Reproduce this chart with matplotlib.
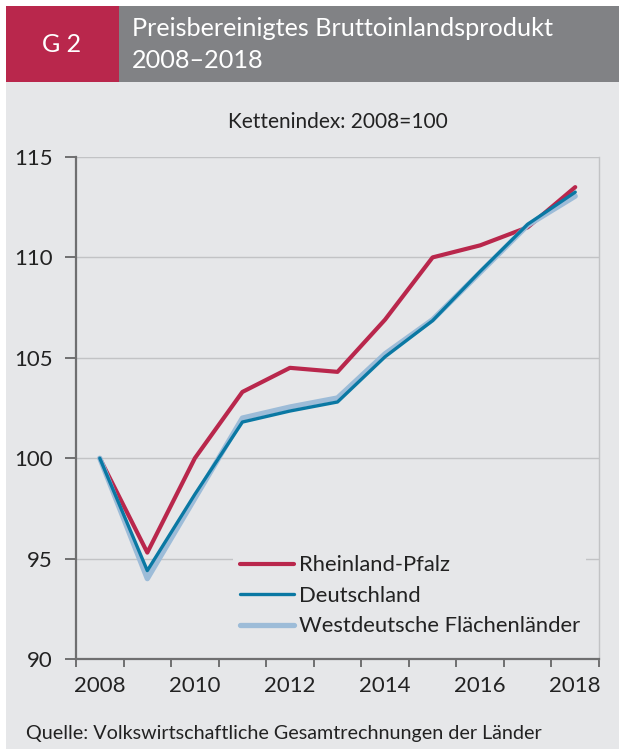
import numpy as np
import matplotlib
matplotlib.use("Agg")
import matplotlib.pyplot as plt
from matplotlib.patches import Rectangle

# Daten (Kettenindex 2008 = 100)
jahre = [2008, 2009, 2010, 2011, 2012, 2013, 2014, 2015, 2016, 2017, 2018]
rlp = [100.0, 95.3, 100.0, 103.3, 104.5, 104.3, 106.9, 110.0, 110.6, 111.5, 113.5]
deutschland = [100.0, 94.4, 98.2, 101.8, 102.35, 102.8, 105.05, 106.85, 109.3, 111.65, 113.25]
west = [100.0, 94.0, 98.0, 102.0, 102.55, 103.0, 105.2, 106.9, 109.25, 111.6, 113.05]
y_ticks = [90, 95, 100, 105, 110, 115]

ROT = "#b9274c"
BLAU = "#0a78a3"
HELLBLAU = "#9dbcd8"
GRAU_KOPF = "#818285"
HG = "#e6e7e9"
TEXT = "#222222"

plt.rcParams["font.family"] = ["Lato", "DejaVu Sans"]

W, H = 619, 749
fig = plt.figure(figsize=(W / 100, H / 100), dpi=100)
fig.patch.set_facecolor("white")


def px(x0, y0, x1, y1):
    # Pixelrechteck (von oben gemessen) -> Figure-Koordinaten
    return (x0 / W, 1 - y1 / H, (x1 - x0) / W, (y1 - y0) / H)


# Hintergrund und Kopfzeile
for (x0, y0, x1, y1), c in [((6, 82, 619, 749), HG),
                            ((6, 6, 119, 82), ROT),
                            ((119, 6, 619, 82), GRAU_KOPF)]:
    l, b, w, h = px(x0, y0, x1, y1)
    fig.patches.append(Rectangle((l, b), w, h, transform=fig.transFigure,
                                 facecolor=c, edgecolor="none", zorder=-10))

fig.text(62 / W, 1 - 44 / H, "G 2", color="white", fontsize=18,
         ha="center", va="center")
fig.text(132 / W, 1 - 28 / H, "Preisbereinigtes Bruttoinlandsprodukt",
         color="white", fontsize=18.2, ha="left", va="center")
fig.text(132 / W, 1 - 60 / H, "2008–2018", color="white", fontsize=18.2,
         ha="left", va="center")

ax = fig.add_axes(px(76, 157, 599, 659))
ax.set_facecolor(HG)

x = np.arange(len(jahre))
l_rlp, = ax.plot(x, rlp, color=ROT, lw=3.0, solid_capstyle="round", zorder=3)
l_west, = ax.plot(x, west, color=HELLBLAU, lw=3.8, solid_capstyle="round", zorder=4)
l_de, = ax.plot(x, deutschland, color=BLAU, lw=2.4, solid_capstyle="round", zorder=5)

ax.set_xlim(-0.5, len(jahre) - 0.5)
ax.set_ylim(90, 115)
ax.set_yticks(y_ticks)
ax.set_xticks(x[::2])
ax.set_xticklabels([str(j) for j in jahre[::2]])
ax.set_xticks(np.arange(-0.5, len(jahre)), minor=True)

ax.grid(axis="y", color="#c2c3c5", lw=1.0, zorder=1)
ax.set_axisbelow(True)

for s in ["left", "bottom"]:
    ax.spines[s].set_color("#6f6f70")
    ax.spines[s].set_linewidth(1.6)
ax.spines["right"].set_color("#c2c3c5")
ax.spines["right"].set_linewidth(1.0)
ax.spines["top"].set_visible(False)

ax.tick_params(axis="y", length=8, width=1.4, color="#6f6f70", pad=9,
               labelsize=16, labelcolor=TEXT)
ax.tick_params(axis="x", which="major", length=0, pad=12,
               labelsize=16, labelcolor=TEXT)
ax.tick_params(axis="x", which="minor", length=6, width=1.4, color="#6f6f70")

ax.text(0.5, 1.05, "Kettenindex: 2008=100", transform=ax.transAxes,
        ha="center", va="bottom", fontsize=15, color=TEXT)

leg = ax.legend([l_rlp, l_de, l_west],
                ["Rheinland-Pfalz", "Deutschland", "Westdeutsche Flächenländer"],
                loc="lower right", bbox_to_anchor=(0.997, 0.01),
                fontsize=15.8, frameon=True, facecolor=HG, edgecolor="none",
                framealpha=1.0, fancybox=False, handlelength=2.5,
                handletextpad=0.2, labelspacing=0.48, borderpad=0.3)
for t in leg.get_texts():
    t.set_color(TEXT)
leg.set_zorder(6)

fig.text(26 / W, 1 - 733 / H,
         "Quelle: Volkswirtschaftliche Gesamtrechnungen der Länder",
         fontsize=14.2, color=TEXT, ha="left", va="center")

fig.savefig("out.png", dpi=100, facecolor=fig.get_facecolor())
